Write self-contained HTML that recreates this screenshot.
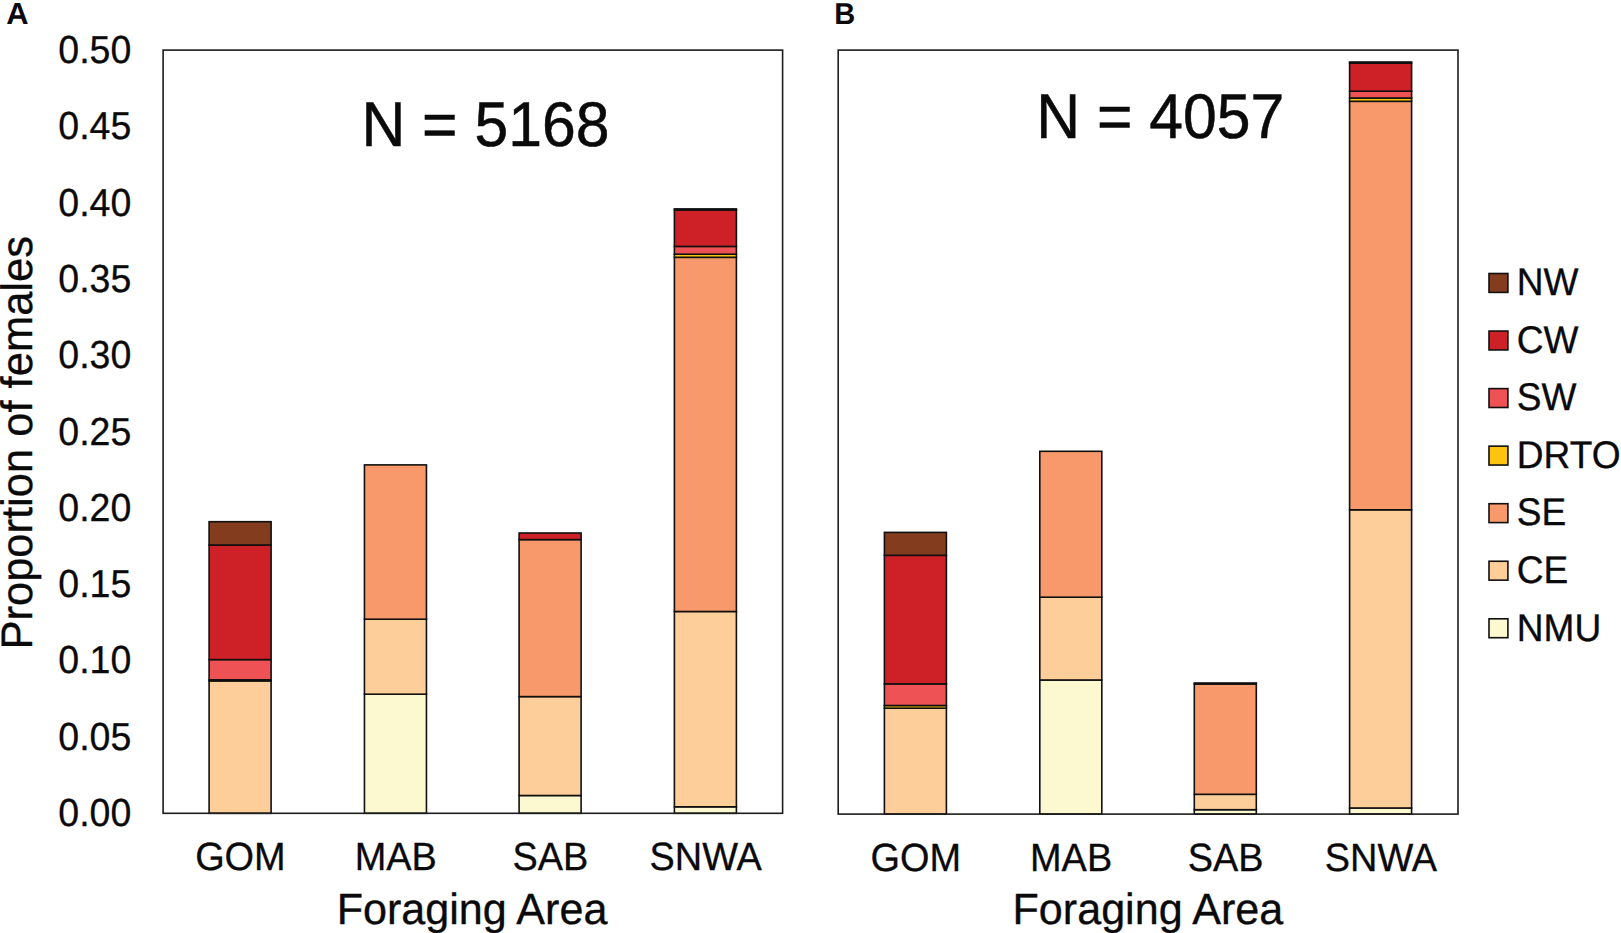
<!DOCTYPE html>
<html><head><meta charset="utf-8"><title>Figure</title>
<style>html,body{margin:0;padding:0;background:#fff;overflow:hidden}svg{display:block}</style></head>
<body>
<svg width="1621" height="933" viewBox="0 0 1621 933" font-family="&quot;Liberation Sans&quot;, sans-serif" fill="#0a0a0a" text-rendering="geometricPrecision">
<rect width="1621" height="933" fill="#fff"/>
<rect x="209.10" y="680.90" width="62.0" height="132.40" fill="#fdce99" stroke="#101010" stroke-width="1.6"/>
<rect x="209.10" y="679.80" width="62.0" height="1.10" fill="#fdc40f" stroke="#101010" stroke-width="1.6"/>
<rect x="209.10" y="659.60" width="62.0" height="20.20" fill="#ef5255" stroke="#101010" stroke-width="1.6"/>
<rect x="209.10" y="545.00" width="62.0" height="114.60" fill="#cd2027" stroke="#101010" stroke-width="1.6"/>
<rect x="209.10" y="521.70" width="62.0" height="23.30" fill="#843c1e" stroke="#101010" stroke-width="1.6"/>
<text transform="translate(240.4,870.3) scale(1,1.04)" font-size="37.9" text-anchor="middle" stroke="#0a0a0a" stroke-width="0.30">GOM</text>
<rect x="364.45" y="694.20" width="62.0" height="119.10" fill="#fcf9d1" stroke="#101010" stroke-width="1.6"/>
<rect x="364.45" y="619.20" width="62.0" height="75.00" fill="#fdce99" stroke="#101010" stroke-width="1.6"/>
<rect x="364.45" y="464.90" width="62.0" height="154.30" fill="#f7996a" stroke="#101010" stroke-width="1.6"/>
<text transform="translate(395.8,870.3) scale(1,1.04)" font-size="37.9" text-anchor="middle" stroke="#0a0a0a" stroke-width="0.30">MAB</text>
<rect x="519.10" y="795.50" width="62.0" height="17.80" fill="#fcf9d1" stroke="#101010" stroke-width="1.6"/>
<rect x="519.10" y="696.60" width="62.0" height="98.90" fill="#fdce99" stroke="#101010" stroke-width="1.6"/>
<rect x="519.10" y="539.60" width="62.0" height="157.00" fill="#f7996a" stroke="#101010" stroke-width="1.6"/>
<rect x="519.10" y="533.00" width="62.0" height="6.60" fill="#cd2027" stroke="#101010" stroke-width="1.6"/>
<text transform="translate(550.4,870.3) scale(1,1.04)" font-size="37.9" text-anchor="middle" stroke="#0a0a0a" stroke-width="0.30">SAB</text>
<rect x="674.40" y="806.80" width="62.0" height="6.50" fill="#fcf9d1" stroke="#101010" stroke-width="1.6"/>
<rect x="674.40" y="611.50" width="62.0" height="195.30" fill="#fdce99" stroke="#101010" stroke-width="1.6"/>
<rect x="674.40" y="257.30" width="62.0" height="354.20" fill="#f7996a" stroke="#101010" stroke-width="1.6"/>
<rect x="674.40" y="254.20" width="62.0" height="3.10" fill="#fdc40f" stroke="#101010" stroke-width="1.6"/>
<rect x="674.40" y="246.40" width="62.0" height="7.80" fill="#ef5255" stroke="#101010" stroke-width="1.6"/>
<rect x="674.40" y="210.00" width="62.0" height="36.40" fill="#cd2027" stroke="#101010" stroke-width="1.6"/>
<rect x="674.40" y="208.90" width="62.0" height="1.10" fill="#843c1e" stroke="#101010" stroke-width="1.6"/>
<text transform="translate(705.7,870.3) scale(1,1.04)" font-size="37.9" text-anchor="middle" stroke="#0a0a0a" stroke-width="0.30">SNWA</text>
<rect x="163.1" y="50.1" width="619.5" height="763.2" fill="none" stroke="#1c1c1c" stroke-width="1.6"/>
<rect x="884.40" y="708.20" width="62.0" height="105.90" fill="#fdce99" stroke="#101010" stroke-width="1.6"/>
<rect x="884.40" y="705.50" width="62.0" height="2.70" fill="#fdc40f" stroke="#101010" stroke-width="1.6"/>
<rect x="884.40" y="683.90" width="62.0" height="21.60" fill="#ef5255" stroke="#101010" stroke-width="1.6"/>
<rect x="884.40" y="555.30" width="62.0" height="128.60" fill="#cd2027" stroke="#101010" stroke-width="1.6"/>
<rect x="884.40" y="532.40" width="62.0" height="22.90" fill="#843c1e" stroke="#101010" stroke-width="1.6"/>
<text transform="translate(915.7,871.1) scale(1,1.04)" font-size="37.9" text-anchor="middle" stroke="#0a0a0a" stroke-width="0.30">GOM</text>
<rect x="1039.80" y="680.00" width="62.0" height="134.10" fill="#fcf9d1" stroke="#101010" stroke-width="1.6"/>
<rect x="1039.80" y="597.20" width="62.0" height="82.80" fill="#fdce99" stroke="#101010" stroke-width="1.6"/>
<rect x="1039.80" y="451.30" width="62.0" height="145.90" fill="#f7996a" stroke="#101010" stroke-width="1.6"/>
<text transform="translate(1071.1,871.1) scale(1,1.04)" font-size="37.9" text-anchor="middle" stroke="#0a0a0a" stroke-width="0.30">MAB</text>
<rect x="1194.30" y="809.70" width="62.0" height="4.40" fill="#fcf9d1" stroke="#101010" stroke-width="1.6"/>
<rect x="1194.30" y="794.30" width="62.0" height="15.40" fill="#fdce99" stroke="#101010" stroke-width="1.6"/>
<rect x="1194.30" y="684.00" width="62.0" height="110.30" fill="#f7996a" stroke="#101010" stroke-width="1.6"/>
<rect x="1194.30" y="683.00" width="62.0" height="1.00" fill="#cd2027" stroke="#101010" stroke-width="1.6"/>
<text transform="translate(1225.6,871.1) scale(1,1.04)" font-size="37.9" text-anchor="middle" stroke="#0a0a0a" stroke-width="0.30">SAB</text>
<rect x="1349.60" y="808.00" width="62.0" height="6.10" fill="#fcf9d1" stroke="#101010" stroke-width="1.6"/>
<rect x="1349.60" y="509.80" width="62.0" height="298.20" fill="#fdce99" stroke="#101010" stroke-width="1.6"/>
<rect x="1349.60" y="101.30" width="62.0" height="408.50" fill="#f7996a" stroke="#101010" stroke-width="1.6"/>
<rect x="1349.60" y="98.00" width="62.0" height="3.30" fill="#fdc40f" stroke="#101010" stroke-width="1.6"/>
<rect x="1349.60" y="91.20" width="62.0" height="6.80" fill="#ef5255" stroke="#101010" stroke-width="1.6"/>
<rect x="1349.60" y="63.10" width="62.0" height="28.10" fill="#cd2027" stroke="#101010" stroke-width="1.6"/>
<rect x="1349.60" y="62.00" width="62.0" height="1.10" fill="#843c1e" stroke="#101010" stroke-width="1.6"/>
<text transform="translate(1380.9,871.1) scale(1,1.04)" font-size="37.9" text-anchor="middle" stroke="#0a0a0a" stroke-width="0.30">SNWA</text>
<rect x="838.2" y="50.1" width="619.8" height="764.0" fill="none" stroke="#1c1c1c" stroke-width="1.6"/>
<text transform="translate(131.3,825.9) scale(1,1.04)" font-size="37.5" text-anchor="end" stroke="#0a0a0a" stroke-width="0.30">0.00</text>
<text transform="translate(131.3,749.6) scale(1,1.04)" font-size="37.5" text-anchor="end" stroke="#0a0a0a" stroke-width="0.30">0.05</text>
<text transform="translate(131.3,673.3) scale(1,1.04)" font-size="37.5" text-anchor="end" stroke="#0a0a0a" stroke-width="0.30">0.10</text>
<text transform="translate(131.3,597.0) scale(1,1.04)" font-size="37.5" text-anchor="end" stroke="#0a0a0a" stroke-width="0.30">0.15</text>
<text transform="translate(131.3,520.7) scale(1,1.04)" font-size="37.5" text-anchor="end" stroke="#0a0a0a" stroke-width="0.30">0.20</text>
<text transform="translate(131.3,444.5) scale(1,1.04)" font-size="37.5" text-anchor="end" stroke="#0a0a0a" stroke-width="0.30">0.25</text>
<text transform="translate(131.3,368.2) scale(1,1.04)" font-size="37.5" text-anchor="end" stroke="#0a0a0a" stroke-width="0.30">0.30</text>
<text transform="translate(131.3,291.9) scale(1,1.04)" font-size="37.5" text-anchor="end" stroke="#0a0a0a" stroke-width="0.30">0.35</text>
<text transform="translate(131.3,215.6) scale(1,1.04)" font-size="37.5" text-anchor="end" stroke="#0a0a0a" stroke-width="0.30">0.40</text>
<text transform="translate(131.3,139.3) scale(1,1.04)" font-size="37.5" text-anchor="end" stroke="#0a0a0a" stroke-width="0.30">0.45</text>
<text transform="translate(131.3,63.1) scale(1,1.04)" font-size="37.5" text-anchor="end" stroke="#0a0a0a" stroke-width="0.30">0.50</text>
<text transform="translate(6.3,24.2) scale(1.03,1.02)" font-size="30" font-weight="bold">A</text>
<text transform="translate(834.3,24.1) scale(0.97,1.0)" font-size="30" font-weight="bold">B</text>
<text transform="translate(361.4,146.0) scale(1,1.04)" font-size="60.7" stroke="#0a0a0a" stroke-width="0.49">N = 5168</text>
<text transform="translate(1036.2,138.3) scale(1,1.04)" font-size="60.7" stroke="#0a0a0a" stroke-width="0.49">N = 4057</text>
<text transform="translate(472.0,923.6) scale(1,1.015)" font-size="43.1" text-anchor="middle" stroke="#0a0a0a" stroke-width="0.34">Foraging Area</text>
<text transform="translate(1147.9,923.9) scale(1,1.015)" font-size="43.1" text-anchor="middle" stroke="#0a0a0a" stroke-width="0.34">Foraging Area</text>
<text transform="translate(31.9,442.8) rotate(-90) scale(1,1.015)" font-size="43.5" text-anchor="middle" stroke="#0a0a0a" stroke-width="0.35">Proportion of females</text>
<rect x="1489" y="273.50" width="18.9" height="18.9" fill="#843c1e" stroke="#101010" stroke-width="1.6"/>
<text transform="translate(1516.8,295.1) scale(1,1.04)" font-size="37.1" stroke="#0a0a0a" stroke-width="0.30">NW</text>
<rect x="1489" y="331.05" width="18.9" height="18.9" fill="#cd2027" stroke="#101010" stroke-width="1.6"/>
<text transform="translate(1516.8,352.7) scale(1,1.04)" font-size="37.1" stroke="#0a0a0a" stroke-width="0.30">CW</text>
<rect x="1489" y="388.60" width="18.9" height="18.9" fill="#ef5255" stroke="#101010" stroke-width="1.6"/>
<text transform="translate(1516.8,410.2) scale(1,1.04)" font-size="37.1" stroke="#0a0a0a" stroke-width="0.30">SW</text>
<rect x="1489" y="446.15" width="18.9" height="18.9" fill="#fdc40f" stroke="#101010" stroke-width="1.6"/>
<text transform="translate(1516.8,467.8) scale(1,1.04)" font-size="37.1" stroke="#0a0a0a" stroke-width="0.30">DRTO</text>
<rect x="1489" y="503.70" width="18.9" height="18.9" fill="#f7996a" stroke="#101010" stroke-width="1.6"/>
<text transform="translate(1516.8,525.4) scale(1,1.04)" font-size="37.1" stroke="#0a0a0a" stroke-width="0.30">SE</text>
<rect x="1489" y="561.25" width="18.9" height="18.9" fill="#fdce99" stroke="#101010" stroke-width="1.6"/>
<text transform="translate(1516.8,582.9) scale(1,1.04)" font-size="37.1" stroke="#0a0a0a" stroke-width="0.30">CE</text>
<rect x="1489" y="618.80" width="18.9" height="18.9" fill="#fcf9d1" stroke="#101010" stroke-width="1.6"/>
<text transform="translate(1516.8,640.5) scale(1,1.04)" font-size="37.1" stroke="#0a0a0a" stroke-width="0.30">NMU</text>
</svg>
</body></html>
